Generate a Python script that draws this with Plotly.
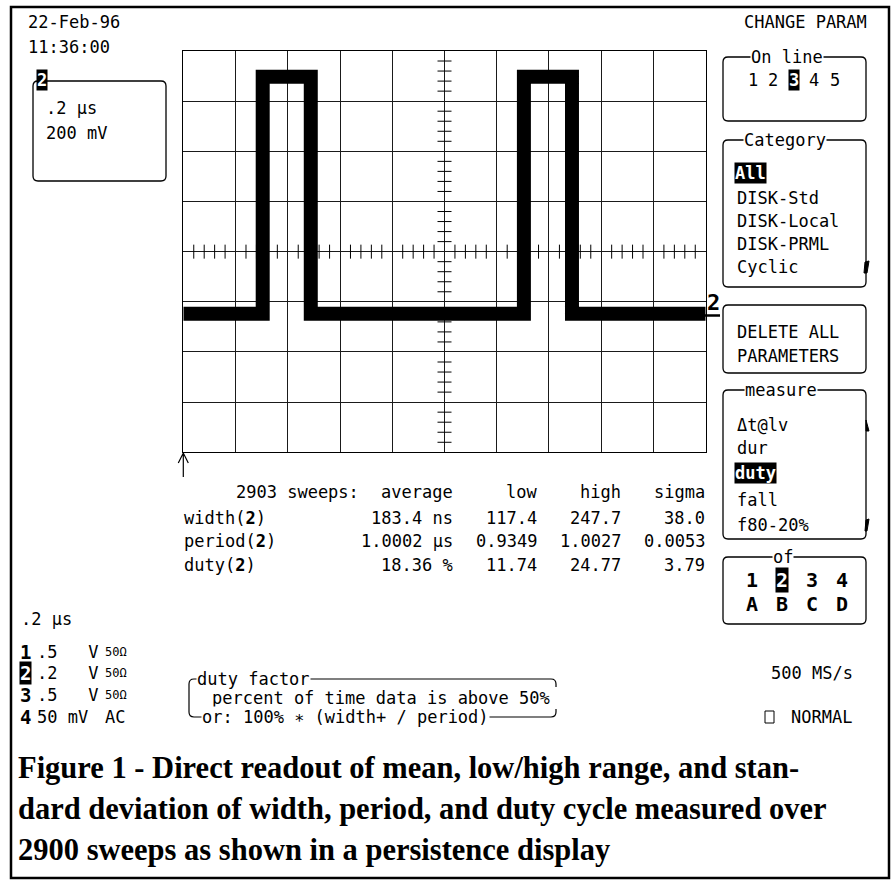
import plotly.graph_objects as go

# ---------------- data ----------------
# persistence trace of channel 2 (time in µs, level in mV above the channel-2 ground marker)
t_us = [0.0, 0.304, 0.304, 0.488, 0.488, 1.304, 1.304, 1.488, 1.488, 2.0]
v_mV = [0, 0, 945, 945, 0, 0, 945, 945, 0, 0]

time_per_div_us = 0.2
volt_per_div_mV = 200
screen_center_mV = 248

date_str = "22-Feb-96"
time_str = "11:36:00"
timebase_lbl = ".2 µs"
vscale_lbl = "200 mV"

sweeps_lbl = "2903 sweeps:"
stat_headers = ["average", "low", "high", "sigma"]
param_names = ["width", "period", "duty"]
param_avg = ["183.4 ns", "1.0002 µs", "18.36 %"]
param_low = ["117.4", "0.9349", "11.74"]
param_high = ["247.7", "1.0027", "24.77"]
param_sigma = ["38.0", "0.0053", "3.79"]

online_items = ["1", "2", "3", "4", "5"]
online_sel = "3"
category_items = ["All", "DISK-Std", "DISK-Local", "DISK-PRML", "Cyclic"]
category_sel = "All"
measure_items = ["Δt@lv", "dur", "duty", "fall", "f80-20%"]
measure_sel = "duty"
of_top = ["1", "2", "3", "4"]
of_bottom = ["A", "B", "C", "D"]
of_sel = "2"

ch_nums = ["1", "2", "3", "4"]
ch_scale = [".5   V", ".2   V", ".5   V", "50 mV"]
ch_coupling = ["50Ω", "50Ω", "50Ω", "AC"]

help_title = "duty factor"
help_lines = ["percent of time data is above 50%", "or: 100% ∗ (width+ / period)"]
sample_rate = "500 MS/s"
trig_mode = "NORMAL"

caption = ["Figure 1 - Direct readout of mean, low/high range, and stan-",
           "dard deviation of width, period, and duty cycle measured over",
           "2900 sweeps as shown in a persistence display"]

# ---------------- helpers ----------------
W, H = 891, 880
MONO = "DejaVu Sans Mono"
SERIF = "Liberation Serif"


def px(x):
    return x / W


def py(y):
    return 1 - y / H


annots = []
shapes = []


def txt(x, y, s, size=17, anchor="left", color="black", bg=None, family=MONO):
    a = dict(x=px(x), y=py(y), xref="paper", yref="paper", text=s, showarrow=False,
             xanchor=anchor, yanchor="middle", borderpad=0,
             font=dict(family=family, size=size, color=color))
    if bg is not None:
        a["bgcolor"] = bg
    annots.append(a)


def P(x, y):
    return f"{px(x):.5f},{py(y):.5f}"


def rrect(x0, y0, x1, y1, r=5, width=1.3):
    path = (f"M{P(x0 + r, y0)} L{P(x1 - r, y0)} Q{P(x1, y0)} {P(x1, y0 + r)} "
            f"L{P(x1, y1 - r)} Q{P(x1, y1)} {P(x1 - r, y1)} L{P(x0 + r, y1)} "
            f"Q{P(x0, y1)} {P(x0, y1 - r)} L{P(x0, y0 + r)} Q{P(x0, y0)} {P(x0 + r, y0)} Z")
    shapes.append(dict(type="path", xref="paper", yref="paper", path=path,
                       line=dict(color="black", width=width), layer="above"))


def pathp(d, width=1.3, fill=None):
    s = dict(type="path", xref="paper", yref="paper", path=d,
             line=dict(color="black", width=width), layer="above")
    if fill:
        s["fillcolor"] = fill
    shapes.append(s)


# ---------------- figure ----------------
fig = go.Figure()
fig.add_trace(go.Scatter(x=t_us, y=v_mV, mode="lines",
                         line=dict(color="black", width=14), hoverinfo="skip"))

# graticule minor ticks on the centre lines
n_x_div, n_y_div = 10, 8
x_span = n_x_div * time_per_div_us
y_lo = screen_center_mV - n_y_div / 2 * volt_per_div_mV
y_hi = screen_center_mV + n_y_div / 2 * volt_per_div_mV
mx = [i * time_per_div_us / 5 for i in range(1, n_x_div * 5) if i % 5]
my = [screen_center_mV + j * volt_per_div_mV / 5 for j in range(-n_y_div * 5 // 2 + 1, n_y_div * 5 // 2) if j % 5]
fig.add_trace(go.Scatter(x=mx, y=[screen_center_mV] * len(mx), mode="markers",
                         marker=dict(symbol="line-ns", size=10, line=dict(width=1, color="black")),
                         hoverinfo="skip"))
fig.add_trace(go.Scatter(x=[x_span / 2] * len(my), y=my, mode="markers",
                         marker=dict(symbol="line-ew", size=10, line=dict(width=1, color="black")),
                         hoverinfo="skip"))

GX0, GX1, GY0, GY1 = 183.3, 705.7, 51.0, 452.3

# ---------------- texts ----------------
txt(27, 22, date_str)
txt(27, 47, time_str)
rrect(33, 81, 166, 181, r=5)
txt(42, 80, "<b>2</b>", size=17, anchor="center", color="white", bg="black")
txt(45, 108, timebase_lbl)
txt(45, 133, vscale_lbl)

# trigger arrow
pathp(f"M{P(GX0, 477)} L{P(GX0, 453)} M{P(GX0 - 5, 463)} L{P(GX0, 453)} L{P(GX0 + 5, 463)}", width=1.2)

# channel-2 ground marker
txt(713, 302, "<b>2</b>", size=22, anchor="center")
pathp(f"M{P(700, 315.5)} L{P(720, 315.5)}", width=2.5)

# statistics table
txt(235, 492, sweeps_lbl)
col_right = [454, 538, 622, 706]
for h, xr in zip(stat_headers, col_right):
    txt(xr, 492, h, anchor="right")
row_y = [518, 541, 565]
for i, nm in enumerate(param_names):
    txt(GX0, row_y[i], f"{nm}(<b>2</b>)")
    for val, xr in zip([param_avg[i], param_low[i], param_high[i], param_sigma[i]], col_right):
        txt(xr, row_y[i], val, anchor="right")

# right-hand menu
txt(743, 22, "CHANGE PARAM")
rrect(723, 57, 866, 121)
txt(787, 57, "On line", anchor="center", bg="white")
for k, it in enumerate(online_items):
    xx = 753 + k * 20.4
    if it == online_sel:
        txt(xx, 80, f"<b>{it}</b>", anchor="center", color="white", bg="black")
    else:
        txt(xx, 80, it, anchor="center")

rrect(723, 140, 866, 287)
txt(785, 140, "Category", anchor="center", bg="white")
cat_y = [173, 198, 221, 244, 267]
for it, yy in zip(category_items, cat_y):
    if it == category_sel:
        txt(734, yy, f"<b>{it}</b>", color="white", bg="black")
    else:
        txt(736, yy, it)
pathp(f"M{P(865, 262)} L{P(869, 261)} L{P(867, 273)} L{P(864, 273)} Z", width=1, fill="black")

rrect(723, 305, 866, 373)
txt(736, 332, "DELETE ALL")
txt(736, 356, "PARAMETERS")

rrect(723, 390, 866, 539)
txt(781, 390, "measure", anchor="center", bg="white")
mea_y = [425, 448, 473, 500, 525]
for it, yy in zip(measure_items, mea_y):
    if it == measure_sel:
        txt(734, yy, f"<b>{it}</b>", color="white", bg="black")
    else:
        txt(736, yy, it)
pathp(f"M{P(866, 420)} L{P(869, 431)} L{P(866, 431)} Z", width=1, fill="black")
pathp(f"M{P(866, 520)} L{P(869, 519)} L{P(867, 531)} L{P(865, 531)} Z", width=1, fill="black")

rrect(723, 557, 866, 624)
txt(783, 557, "of", anchor="center", bg="white")
for k, (a, b) in enumerate(zip(of_top, of_bottom)):
    xx = 752 + k * 30
    if a == of_sel:
        txt(xx, 580, f"<b>{a}</b>", size=20, anchor="center", color="white", bg="black")
    else:
        txt(xx, 580, f"<b>{a}</b>", size=20, anchor="center")
    txt(xx, 604, f"<b>{b}</b>", size=20, anchor="center")

# lower left: time base and channel settings
txt(20, 619, timebase_lbl)
ch_y = [652, 673, 695, 717]
for n, sc, cp, yy in zip(ch_nums, ch_scale, ch_coupling, ch_y):
    if n == "2":
        txt(25, yy, f"<b>{n}</b>", size=19, anchor="center", color="white", bg="black")
    else:
        txt(25, yy, f"<b>{n}</b>", size=19, anchor="center")
    txt(36, yy, sc)
    txt(104, yy, cp, size=12 if "Ω" in cp else 17)

# help box
bx0, by0, bx1, by1, r = 189, 679, 556, 717, 5
pathp(f"M{P(bx1, by0 + 8)} L{P(bx1, by0 + r)} Q{P(bx1, by0)} {P(bx1 - r, by0)} "
      f"L{P(bx0 + r, by0)} Q{P(bx0, by0)} {P(bx0, by0 + r)} L{P(bx0, by1 - r)} "
      f"Q{P(bx0, by1)} {P(bx0 + r, by1)} L{P(bx1 - r, by1)} Q{P(bx1, by1)} {P(bx1, by1 - r)} "
      f"L{P(bx1, by1 - 8)}", width=1.2)
txt(196, by0, help_title, bg="white")
txt(211, 698, help_lines[0])
txt(201, by1, help_lines[1], bg="white")

txt(770, 673, sample_rate)
shapes.append(dict(type="rect", xref="paper", yref="paper", x0=px(765), x1=px(774),
                   y0=py(723), y1=py(711), line=dict(color="black", width=1)))
txt(790, 717, trig_mode)

# caption
cap_y = [768, 809, 850]
for s, yy in zip(caption, cap_y):
    txt(17, yy, f"<b>{s}</b>", size=30.5, family=SERIF)

# outer frame
shapes.append(dict(type="rect", xref="paper", yref="paper", x0=px(11), x1=px(889),
                   y0=py(878), y1=py(7), line=dict(color="black", width=2.5)))

fig.update_layout(
    width=W, height=H, autosize=False,
    margin=dict(l=0, r=0, t=0, b=0),
    paper_bgcolor="white", plot_bgcolor="white",
    showlegend=False,
    xaxis=dict(domain=[px(GX0), px(GX1)], range=[0, x_span], dtick=time_per_div_us, tick0=0,
               showgrid=True, gridcolor="#1a1a1a", gridwidth=1, zeroline=False,
               showline=True, linecolor="black", linewidth=1, mirror=True,
               showticklabels=False, ticks="", fixedrange=True),
    yaxis=dict(domain=[py(GY1), py(GY0)], range=[y_lo, y_hi], dtick=volt_per_div_mV,
               tick0=screen_center_mV, showgrid=True, gridcolor="#1a1a1a", gridwidth=1,
               zeroline=False, showline=True, linecolor="black", linewidth=1, mirror=True,
               showticklabels=False, ticks="", fixedrange=True),
    annotations=annots,
    shapes=shapes,
)

fig.write_html("out.html", post_script="document.body.style.margin='0';",
               config={"displayModeBar": False})
